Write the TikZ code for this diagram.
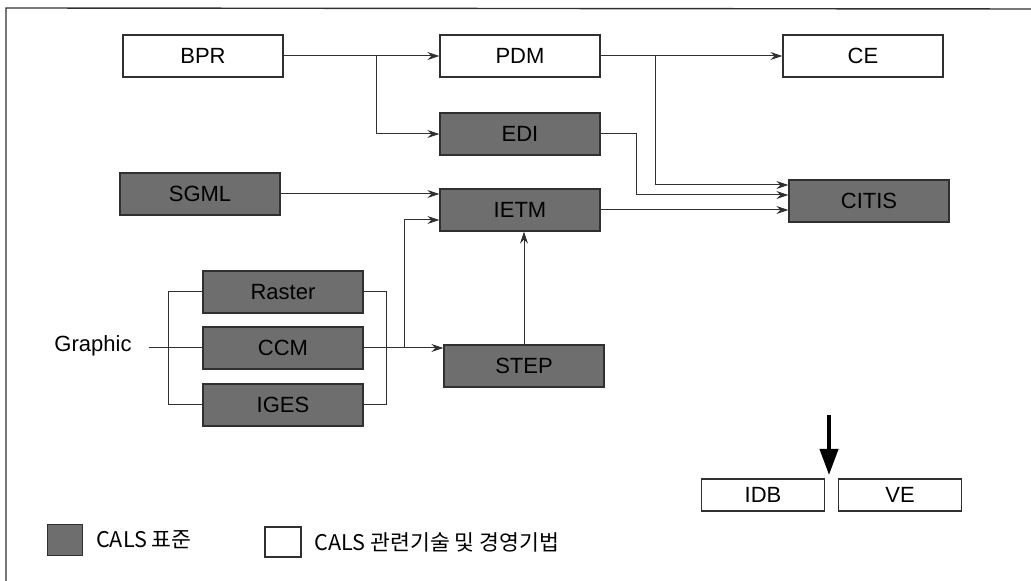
\documentclass[tikz,border=0pt]{standalone}
\usepackage{fontspec}
\setmainfont{Liberation Sans}
\newfontfamily\kor{Noto Sans CJK KR}
\usepackage{xcolor}
\usetikzlibrary{positioning,arrows.meta}
\definecolor{calsGray}{HTML}{6E6E6E}
\definecolor{lineGray}{HTML}{303030}

\begin{document}
\begin{tikzpicture}[
  x=0.5pt, y=-0.5pt,
  every node/.style={font=\fontsize{11}{13}\selectfont},
  std/.style={rectangle, draw=lineGray, fill=calsGray, line width=0.6pt,
    minimum width=80pt, minimum height=21pt, inner sep=0pt},
  tech/.style={rectangle, draw=lineGray, fill=white, line width=0.6pt,
    minimum width=80pt, minimum height=21pt, inner sep=0pt},
  small/.style={tech, minimum width=61.5pt, minimum height=16pt},
  arrow/.style={-{Stealth[length=6pt, width=4pt]}, line width=0.5pt, lineGray},
  link/.style={line width=0.5pt, lineGray},
  bigarrow/.style={-{Triangle[length=13pt, width=9pt]}, line width=2pt, black},
]
\useasboundingbox (0,0) rectangle (1031,581);

% Frame
\draw[line width=0.7pt, lineGray] (6,581) -- (6,8) -- (1031,9);

% Top row
\node[tech] (bpr) at (203,56) {BPR};
\node[tech] (pdm) at (520,56) {PDM};
\node[tech] (ce) at (863,56) {CE};

% Middle column
\node[std] (edi) at (520,134) {EDI};
\node[std] (sgml) at (200,194) {SGML};
\node[std] (ietm) at (520,210) {IETM};
\node[std] (citis) at (869,201) {CITIS};

% Graphic formats
\node[std] (raster) at (283,292) {Raster};
\node[std] (ccm) at (283,348) {CCM};
\node[std] (iges) at (283,405) {IGES};
\node (graphic) at (93,346) {Graphic};
\node[std] (step) at (524,366) {STEP};

% Integration
\node[small] (idb) at (763,495) {IDB};
\node[small] (ve) at (900,495) {VE};
\coordinate (down-top) at (829,415);
\coordinate (down-tip) at (829,475);
\draw[bigarrow] (down-top) -- (down-tip);

% Arrows between stages
\draw[arrow] (bpr) -- (pdm);
\draw[arrow] (bpr.east) -- ++(93,0) |- (edi.west);
\draw[arrow] (pdm) -- (ce);
\draw[arrow] (pdm.east) -- ++(55,0) |- ([yshift=8pt]citis.west);
\draw[arrow] (edi.east) -- ++(36,0) |- ([yshift=3pt]citis.west);
\draw[arrow] (ietm.east) -- (ietm.east -| citis.west);
\draw[arrow] (sgml.east) -- (sgml.east -| ietm.west);

% Graphic brackets
\draw[link] ([xshift=5pt]graphic.east |- ccm.west) -- (ccm.west);
\draw[link] (raster.west) -- ++(-34,0) |- (iges.west);
\draw[link] (raster.east) -- ++(23,0) |- (iges.east);
\draw[arrow] (ccm.east) -- (ccm.east -| step.west);
\draw[arrow] (ccm.east) -- ++(41,0) |- ([yshift=-5pt]ietm.west);
\draw[arrow] (step.north) -- (step.north |- ietm.south);

% Legend
\node[std, minimum width=17.5pt, minimum height=15.5pt] (key-std) at (65,540) {};
\node[right=3pt of key-std, font=\kor\fontsize{10.8}{12}\selectfont] (key-std-text) {CALS 표준};
\node[tech, minimum width=18pt, minimum height=15pt] (key-tech) at (283,542) {};
\node[right=3pt of key-tech, font=\kor\fontsize{10.8}{12}\selectfont] (key-tech-text) {CALS 관련기술 및 경영기법};
\end{tikzpicture}
\end{document}
